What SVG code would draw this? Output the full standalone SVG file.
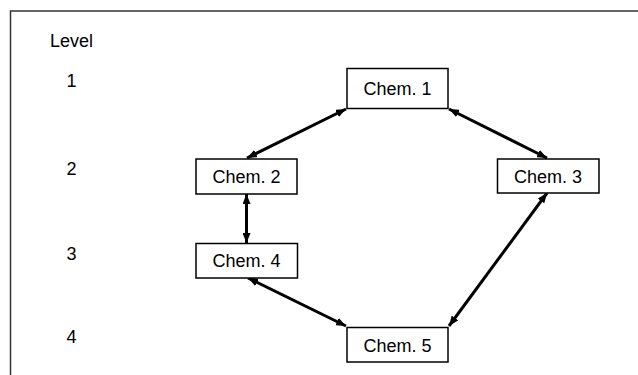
<svg xmlns="http://www.w3.org/2000/svg" width="638" height="375" viewBox="0 0 638 375">
  <style>
    .frame { fill: none; stroke: #333; stroke-width: 1.5; }
    .box { fill: #fff; stroke: #000; stroke-width: 1.5; }
    .lbl { font-family: "Liberation Sans", Arial, sans-serif; font-size: 18px; fill: #000; }
    .node-text { text-anchor: middle; }
    .link { fill: none; stroke: #000; stroke-width: 3; marker-start: url(#head); marker-end: url(#head); }
  </style>
  <defs>
    <marker id="head" viewBox="0 0 10 8" refX="10" refY="4" markerWidth="10" markerHeight="8" markerUnits="userSpaceOnUse" orient="auto-start-reverse">
      <path d="M0,0 L10,4 L0,8 Z" fill="#000"/>
    </marker>
  </defs>

  <rect width="638" height="375" fill="#fff"/>
  <!-- outer frame: top and left edges -->
  <path class="frame" d="M638,11 H10.5 V375"/>

  <!-- level axis -->
  <g id="levels" class="lbl">
    <text x="50" y="47">Level</text>
    <text x="66.5" y="87">1</text>
    <text x="66.5" y="175">2</text>
    <text x="66.5" y="260">3</text>
    <text x="66.5" y="343">4</text>
  </g>

  <!-- connectors -->
  <g id="connectors">
    <line class="link" x1="346" y1="109" x2="247" y2="158"/>
    <line class="link" x1="449" y1="109" x2="547" y2="158"/>
    <line class="link" x1="246.5" y1="194" x2="246.5" y2="243"/>
    <line class="link" x1="248" y1="278" x2="346" y2="326"/>
    <line class="link" x1="547" y1="193" x2="449" y2="326"/>
  </g>

  <g id="chem1">
    <rect class="box" x="347" y="68.5" width="101" height="40"/>
    <text class="lbl node-text" x="397.5" y="95">Chem. 1</text>
  </g>
  <g id="chem2">
    <rect class="box" x="196" y="159" width="101" height="35"/>
    <text class="lbl node-text" x="246.5" y="182.5">Chem. 2</text>
  </g>
  <g id="chem3">
    <rect class="box" x="497.5" y="159" width="101.5" height="34"/>
    <text class="lbl node-text" x="548" y="182.5">Chem. 3</text>
  </g>
  <g id="chem4">
    <rect class="box" x="196" y="243.5" width="101.5" height="34.5"/>
    <text class="lbl node-text" x="246.5" y="266.5">Chem. 4</text>
  </g>
  <g id="chem5">
    <rect class="box" x="347" y="327.5" width="101" height="34.5"/>
    <text class="lbl node-text" x="397.5" y="351.5">Chem. 5</text>
  </g>
</svg>
